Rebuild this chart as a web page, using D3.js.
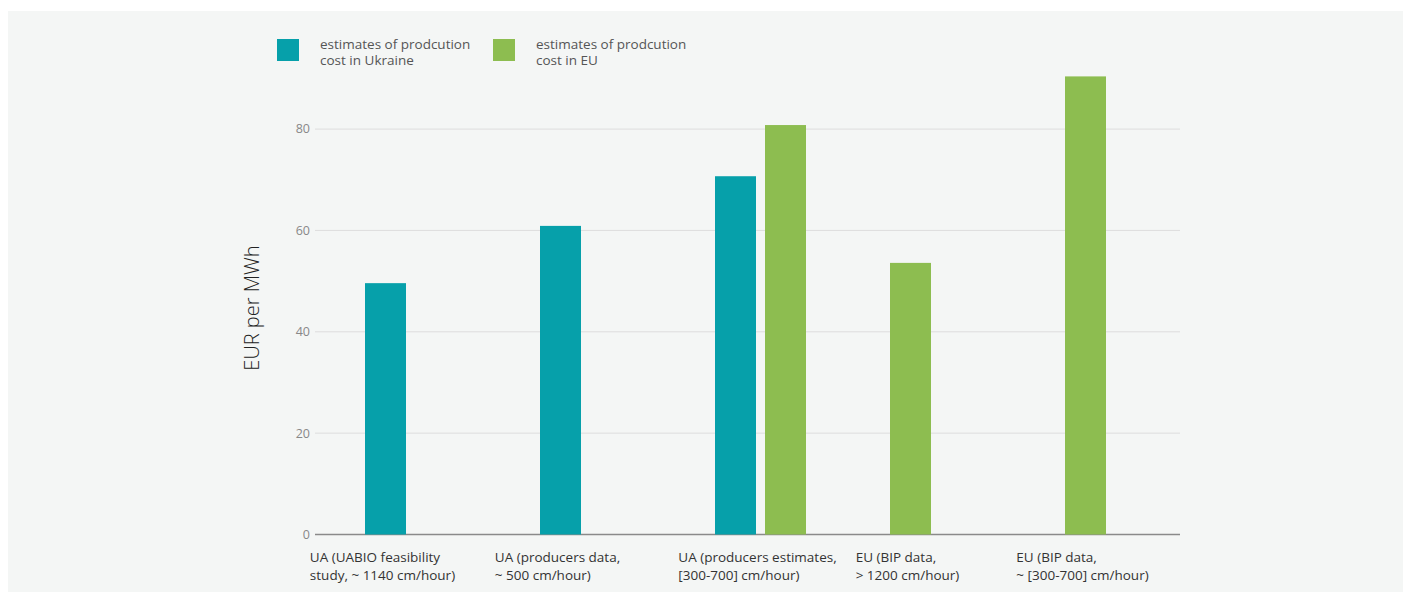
<!DOCTYPE html>
<html>
<head>
<meta charset="utf-8">
<script src="https://cdn.jsdelivr.net/npm/d3@7"></script>
<style>
  html, body { margin: 0; padding: 0; background: #ffffff; }
  svg { display: block; }
  text { font-family: "Open Sans", "Noto Sans", sans-serif; }
</style>
</head>
<body>
<svg id="chart" width="1406" height="594"></svg>
<script>
// Production cost estimates, EUR per MWh
const categories = [
  ["UA (UABIO feasibility", "study, ~ 1140 cm/hour)"],
  ["UA (producers data,", "~ 500 cm/hour)"],
  ["UA (producers estimates,", "[300-700] cm/hour)"],
  ["EU (BIP data,", "> 1200 cm/hour)"],
  ["EU (BIP data,", "~ [300-700] cm/hour)"]
];
const seriesNames = [
  ["estimates of prodcution", "cost in Ukraine"],
  ["estimates of prodcution", "cost in EU"]
];
const ukraineValues = [49.6, 60.9, 70.7, null, null];
const euValues = [null, null, 80.8, 53.6, 90.4];
const yTicks = [0, 20, 40, 60, 80];

const colors = ["#06a0aa", "#8dbd50"];
const seriesValues = [ukraineValues, euValues];

const svg = d3.select("#chart");

// panel background
svg.append("rect").attr("x", 8).attr("y", 11).attr("width", 1395).attr("height", 581)
  .attr("fill", "#f4f6f5");

const plotLeft = 315, plotRight = 1180;
const y = d3.scaleLinear().domain([0, 80]).range([534.5, 129.1]);
const keys = categories.map((c, i) => "c" + i);
const x = d3.scaleBand().domain(keys).range([311, 1186]);
const slotStep = 50, barWidth = 41, firstOffset = 54;

// gridlines and y tick labels
const yAxis = svg.append("g");
yTicks.forEach(t => {
  yAxis.append("line")
    .attr("x1", plotLeft).attr("x2", plotRight)
    .attr("y1", y(t)).attr("y2", y(t))
    .attr("stroke", t === 0 ? "#8a8a8a" : "#dddddd")
    .attr("stroke-width", t === 0 ? 1.5 : 1);
  yAxis.append("text")
    .attr("x", plotLeft - 5).attr("y", y(t))
    .attr("dy", "0.35em").attr("text-anchor", "end")
    .attr("font-size", 12.5).attr("fill", "#888")
    .text(t);
});

// y axis title
svg.append("text")
  .attr("transform", "translate(259,308) rotate(-90)")
  .attr("text-anchor", "middle")
  .attr("font-size", 20).attr("font-weight", 300).attr("fill", "#222")
  .text("EUR per MWh");

// bars: present bars are packed from the left of each band
const bars = svg.append("g");
const labels = svg.append("g");
categories.forEach((cat, ci) => {
  const present = [];
  seriesValues.forEach((vals, si) => { if (vals[ci] != null) present.push(si); });
  present.forEach((si, slot) => {
    const v = seriesValues[si][ci];
    bars.append("rect")
      .attr("x", x(keys[ci]) + firstOffset + slot * slotStep)
      .attr("y", y(v))
      .attr("width", barWidth)
      .attr("height", y(0) - y(v))
      .attr("fill", colors[si]);
  });
  const center = x(keys[ci]) + firstOffset + ((present.length - 1) * slotStep + barWidth) / 2;
  const t = labels.append("text").attr("font-size", 13.5).attr("fill", "#333");
  cat.forEach((line, li) => {
    t.append("tspan").attr("x", 0).attr("y", 562 + li * 18).text(line);
  });
  const w = t.node().getBBox().width;
  t.attr("transform", `translate(${center - w / 2 - 3},0)`);
});

// legend
const legend = svg.append("g");
seriesNames.forEach((name, i) => {
  const lx = 277 + i * 216;
  legend.append("rect").attr("x", lx).attr("y", 39).attr("width", 22).attr("height", 22)
    .attr("fill", colors[i]);
  const t = legend.append("text").attr("font-size", 13.5).attr("fill", "#555");
  name.forEach((line, li) => {
    t.append("tspan").attr("x", lx + 43).attr("y", 49 + li * 16).text(line);
  });
});
</script>
</body>
</html>
